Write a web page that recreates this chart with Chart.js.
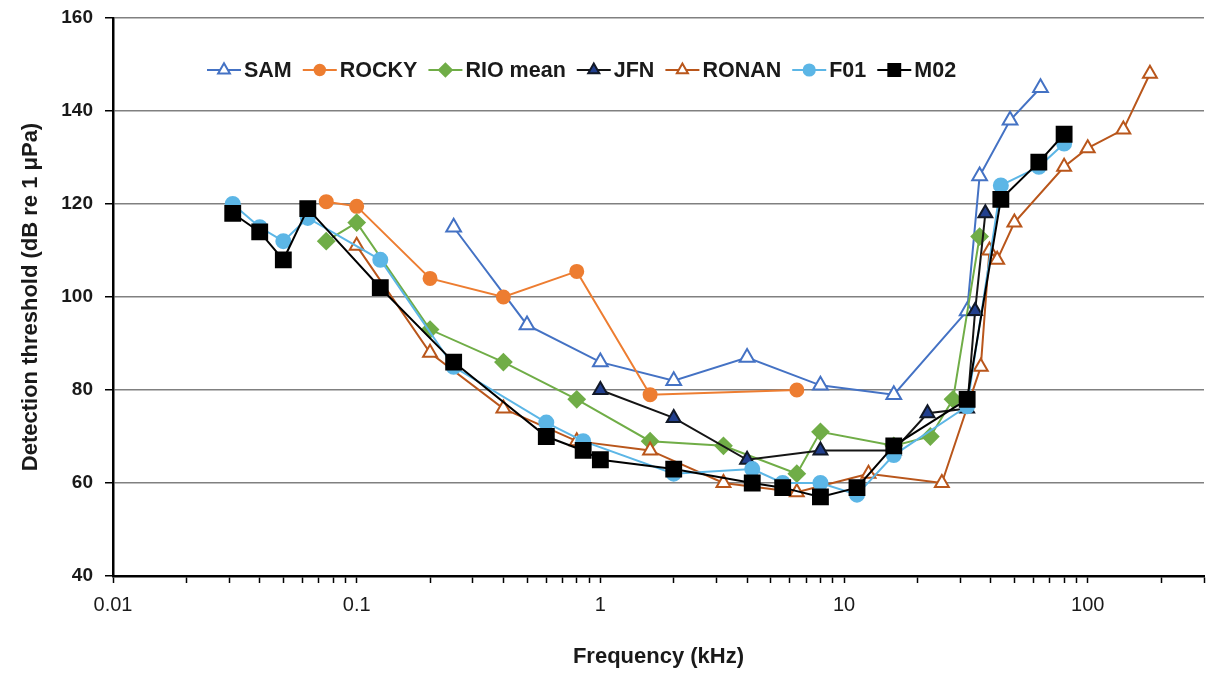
<!DOCTYPE html>
<html>
<head>
<meta charset="utf-8">
<script src="https://cdn.jsdelivr.net/npm/chart.js@4/dist/chart.umd.min.js"></script>
<style>
  html, body { margin: 0; padding: 0; background: #fff; }
  #wrap { width: 1206px; height: 675px; position: relative; }
</style>
</head>
<body>
<div id="wrap"><canvas id="chart"></canvas></div>
<script>
// frequencies in kHz, thresholds in dB re 1 µPa
const samFreq = [0.25, 0.5, 1, 2, 4, 8, 16, 32, 36, 48, 64];
const samDb   = [115, 94, 86, 82, 87, 81, 79, 97, 126, 138, 145];

const rockyFreq = [0.075, 0.1, 0.2, 0.4, 0.8, 1.6, 6.4];
const rockyDb   = [120.5, 119.5, 104, 100, 105.5, 79, 80];

const rioFreq = [0.075, 0.1, 0.2, 0.4, 0.8, 1.6, 3.2, 6.4, 8, 16, 22.6, 28, 36];
const rioDb   = [112, 116, 93, 86, 78, 69, 68, 62, 71, 68, 70, 78, 113];

const jfnFreq = [1, 2, 4, 8, 16, 22, 32, 34.5, 38];
const jfnDb   = [80, 74, 65, 67, 67, 75, 76, 97, 118];

const ronanFreq = [0.1, 0.2, 0.4, 0.8, 1.6, 3.2, 6.4, 12.6, 25.2, 36.4, 39.5, 42.5, 50, 80, 100, 140, 180];
const ronanDb   = [111, 88, 76, 69, 67, 60, 58, 62, 60, 85, 110, 108, 116, 128, 132, 136, 148];

const f01Freq = [0.031, 0.04, 0.05, 0.063, 0.125, 0.25, 0.6, 0.85, 2, 4.2, 5.6, 8, 11.3, 16, 32, 44, 63, 80];
const f01Db   = [120, 115, 112, 117, 108, 85, 73, 69, 62, 63, 60, 60, 57.5, 66, 76.5, 124, 128, 133];

const m02Freq = [0.031, 0.04, 0.05, 0.063, 0.125, 0.25, 0.6, 0.85, 1, 2, 4.2, 5.6, 8, 11.3, 16, 32, 44, 63, 80];
const m02Db   = [118, 114, 108, 119, 102, 86, 70, 67, 65, 63, 60, 59, 57, 59, 68, 78, 121, 129, 135];

const yTicks = [40, 60, 80, 100, 120, 140, 160];

const pts = (xs, ys) => xs.map((x, i) => ({ x: x, y: ys[i] }));

function series(label, xs, ys, line, style, fill, edge, r) {
  return {
    label: label,
    data: pts(xs, ys),
    showLine: true,
    borderColor: line,
    borderWidth: 2,
    pointStyle: style,
    pointRadius: r,
    pointHoverRadius: r,
    pointBackgroundColor: fill,
    pointBorderColor: edge,
    pointBorderWidth: 2,
    tension: 0
  };
}

const datasets = [
  series('SAM', samFreq, samDb, '#4472C4', 'triangle', '#ffffff', '#4472C4', 8.5),
  series('ROCKY', rockyFreq, rockyDb, '#ED7D31', 'circle', '#ED7D31', '#ED7D31', 6.5),
  series('RIO mean', rioFreq, rioDb, '#70AD47', 'rectRot', '#70AD47', '#70AD47', 8),
  series('JFN', jfnFreq, jfnDb, '#151515', 'triangle', '#213F8E', '#111827', 8),
  series('RONAN', ronanFreq, ronanDb, '#B9561B', 'triangle', '#ffffff', '#B9561B', 8),
  series('F01', f01Freq, f01Db, '#5CB6E6', 'circle', '#5CB6E6', '#5CB6E6', 7),
  series('M02', m02Freq, m02Db, '#000000', 'rect', '#000000', '#000000', 10.5)
];
// last series sits on top, as in the original
datasets.forEach((d, i) => { d.order = datasets.length - i; });

const insideLegend = {
  id: 'insideLegend',
  afterDraw(chart) {
    const ctx = chart.ctx;
    const y = 70;
    let x = 207;
    ctx.save();
    ctx.font = 'bold 21.5px "Liberation Sans", Arial, sans-serif';
    ctx.textBaseline = 'middle';
    datasets.forEach(ds => {
      ctx.strokeStyle = ds.borderColor;
      ctx.lineWidth = 2;
      ctx.beginPath();
      ctx.moveTo(x, y);
      ctx.lineTo(x + 34, y);
      ctx.stroke();
      ctx.fillStyle = ds.pointBackgroundColor;
      ctx.strokeStyle = ds.pointBorderColor;
      ctx.lineWidth = ds.pointBorderWidth;
      Chart.helpers.drawPoint(ctx, {
        pointStyle: ds.pointStyle,
        radius: ds.pointRadius * 0.8,
        rotation: 0,
        borderWidth: ds.pointBorderWidth
      }, x + 17, y);
      ctx.fillStyle = '#1a1a1a';
      ctx.fillText(ds.label, x + 37, y + 1);
      x += 37 + ctx.measureText(ds.label).width + 11;
    });
    ctx.restore();
  }
};

new Chart(document.getElementById('chart'), {
  type: 'scatter',
  data: { datasets: datasets },
  options: {
    responsive: true,
    maintainAspectRatio: false,
    animation: false,
    layout: { autoPadding: false, padding: { top: 18, right: 2, left: 0, bottom: 0 } },
    plugins: {
      legend: { display: false },
      tooltip: { enabled: false }
    },
    scales: {
      x: {
        type: 'logarithmic',
        min: 0.01,
        max: 300,
        afterBuildTicks(scale) {
          const t = [];
          for (let e = -2; e <= 2; e++) {
            for (let m = 1; m <= 9; m++) {
              const v = +(m * Math.pow(10, e)).toPrecision(6);
              if (v <= 300) t.push({ value: v });
            }
          }
          scale.ticks = t;
        },
        afterFit(scale) {
          scale.height = 99;
          scale.paddingLeft = 0;
          scale.paddingRight = 0;
        },
        ticks: {
          autoSkip: false,
          maxRotation: 0,
          padding: 10,
          color: '#1a1a1a',
          font: { family: '"Liberation Sans Narrow", "Liberation Sans", Arial, sans-serif', size: 20 },
          callback(v) {
            const l = Math.log10(v);
            return Math.abs(l - Math.round(l)) < 1e-9 ? String(v) : '';
          }
        },
        grid: {
          drawOnChartArea: false,
          drawTicks: true,
          tickLength: 7,
          tickColor: '#000',
          tickWidth: 1.5
        },
        border: { color: '#000', width: 2.5 },
        title: {
          display: true,
          text: 'Frequency (kHz)',
          color: '#1a1a1a',
          font: { family: '"Liberation Sans", Arial, sans-serif', size: 22, weight: 'bold' },
          padding: { top: 0, bottom: 5 }
        }
      },
      y: {
        min: 40,
        max: 160,
        afterBuildTicks(scale) { scale.ticks = yTicks.map(v => ({ value: v })); },
        afterFit(scale) {
          scale.width = 113;
          scale.paddingTop = 0;
          scale.paddingBottom = 0;
        },
        ticks: {
          padding: 12,
          color: '#1a1a1a',
          font: { family: '"Liberation Sans", Arial, sans-serif', size: 19, weight: 'bold' }
        },
        grid: {
          color: '#808080',
          lineWidth: 1.5,
          tickLength: 8,
          tickColor: '#000'
        },
        border: { color: '#000', width: 2.5 },
        title: {
          display: true,
          text: 'Detection threshold (dB re 1 μPa)',
          color: '#1a1a1a',
          font: { family: '"Liberation Sans", Arial, sans-serif', size: 22, weight: 'bold' },
          padding: { top: 18, bottom: 0 }
        }
      }
    }
  },
  plugins: [insideLegend]
});
</script>
</body>
</html>
